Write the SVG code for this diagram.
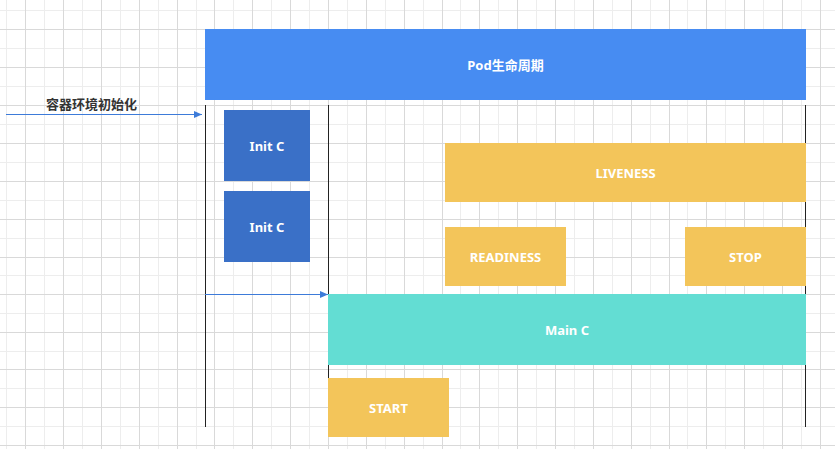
<svg xmlns="http://www.w3.org/2000/svg" width="835" height="449" viewBox="0 0 835 449">
<style>
.t{font-family:"Noto Sans","Noto Sans CJK SC",sans-serif;font-weight:bold;font-size:13px;fill:#ffffff;text-anchor:middle;dominant-baseline:central}
.lbl{fill:#333333}
.blue{fill:#478cf2}
.init{fill:#3a70c7}
.yel{fill:#f3c55a}
.teal{fill:#63ddd3}
.life{stroke:#222222;stroke-width:1;fill:none}
.arr{stroke:#3d7bd9;stroke-width:1;fill:none;marker-end:url(#ah)}
</style>
<defs>
<marker id="ah" markerWidth="8" markerHeight="7" refX="8" refY="3.5" orient="auto" markerUnits="userSpaceOnUse">
<path d="M0,0 L8,3.5 L0,7 Z" fill="#3d7bd9"/>
</marker>
</defs>
<rect x="0" y="0" width="835" height="449" fill="#ffffff"/>
<g id="grid">
<path stroke="#ededed" stroke-width="1" fill="none" d="M6.5 0V449M44.5 0V449M82.5 0V449M120.5 0V449M158.5 0V449M196.5 0V449M233.5 0V449M271.5 0V449M309.5 0V449M347.5 0V449M385.5 0V449M423.5 0V449M460.5 0V449M498.5 0V449M536.5 0V449M574.5 0V449M612.5 0V449M650.5 0V449M687.5 0V449M725.5 0V449M763.5 0V449M801.5 0V449M0 10.5H835M0 48.5H835M0 86.5H835M0 124.5H835M0 162.5H835M0 200.5H835M0 238.5H835M0 275.5H835M0 313.5H835M0 351.5H835M0 388.5H835M0 426.5H835"/>
<path stroke="#d9d9d9" stroke-width="1" fill="none" d="M25.5 0V449M63.5 0V449M101.5 0V449M139.5 0V449M177.5 0V449M214.5 0V449M252.5 0V449M290.5 0V449M328.5 0V449M366.5 0V449M404.5 0V449M442.5 0V449M479.5 0V449M517.5 0V449M555.5 0V449M593.5 0V449M631.5 0V449M669.5 0V449M706.5 0V449M744.5 0V449M782.5 0V449M820.5 0V449M0 29.5H835M0 67.5H835M0 105.5H835M0 143.5H835M0 181.5H835M0 219.5H835M0 257.5H835M0 294.5H835M0 332.5H835M0 369.5H835M0 407.5H835M0 445.5H835"/>
</g>
<g id="connectors">
<path class="life" d="M205.5 105V427"/>
<path class="life" d="M328.5 105V427"/>
<path class="life" d="M805.5 105V427"/>
<path class="arr" d="M6 114.5H202"/>
<path class="arr" d="M205 294.5H328"/>
</g>
<g id="pod">
<rect class="blue" x="205" y="29" width="601" height="71"/>
<text class="t" x="505.5" y="64.5">Pod生命周期</text>
</g>
<g id="init-label">
<text class="t lbl" x="91.5" y="104">容器环境初始化</text>
</g>
<g id="init1">
<rect class="init" x="224" y="110" width="86" height="71"/>
<text class="t" x="267" y="145.5">Init C</text>
</g>
<g id="init2">
<rect class="init" x="224" y="191" width="86" height="71"/>
<text class="t" x="267" y="226.5">Init C</text>
</g>
<g id="liveness">
<rect class="yel" x="445" y="143" width="361" height="59"/>
<text class="t" x="625.5" y="172.5">LIVENESS</text>
</g>
<g id="readiness">
<rect class="yel" x="445" y="227" width="121" height="59"/>
<text class="t" x="505.5" y="256.5">READINESS</text>
</g>
<g id="stop">
<rect class="yel" x="685" y="227" width="121" height="59"/>
<text class="t" x="745.5" y="256.5">STOP</text>
</g>
<g id="main">
<rect class="teal" x="328" y="294" width="478" height="71"/>
<text class="t" x="567" y="329.5">Main C</text>
</g>
<g id="start">
<rect class="yel" x="328" y="378" width="121" height="59"/>
<text class="t" x="388.5" y="407.5">START</text>
</g>
</svg>
